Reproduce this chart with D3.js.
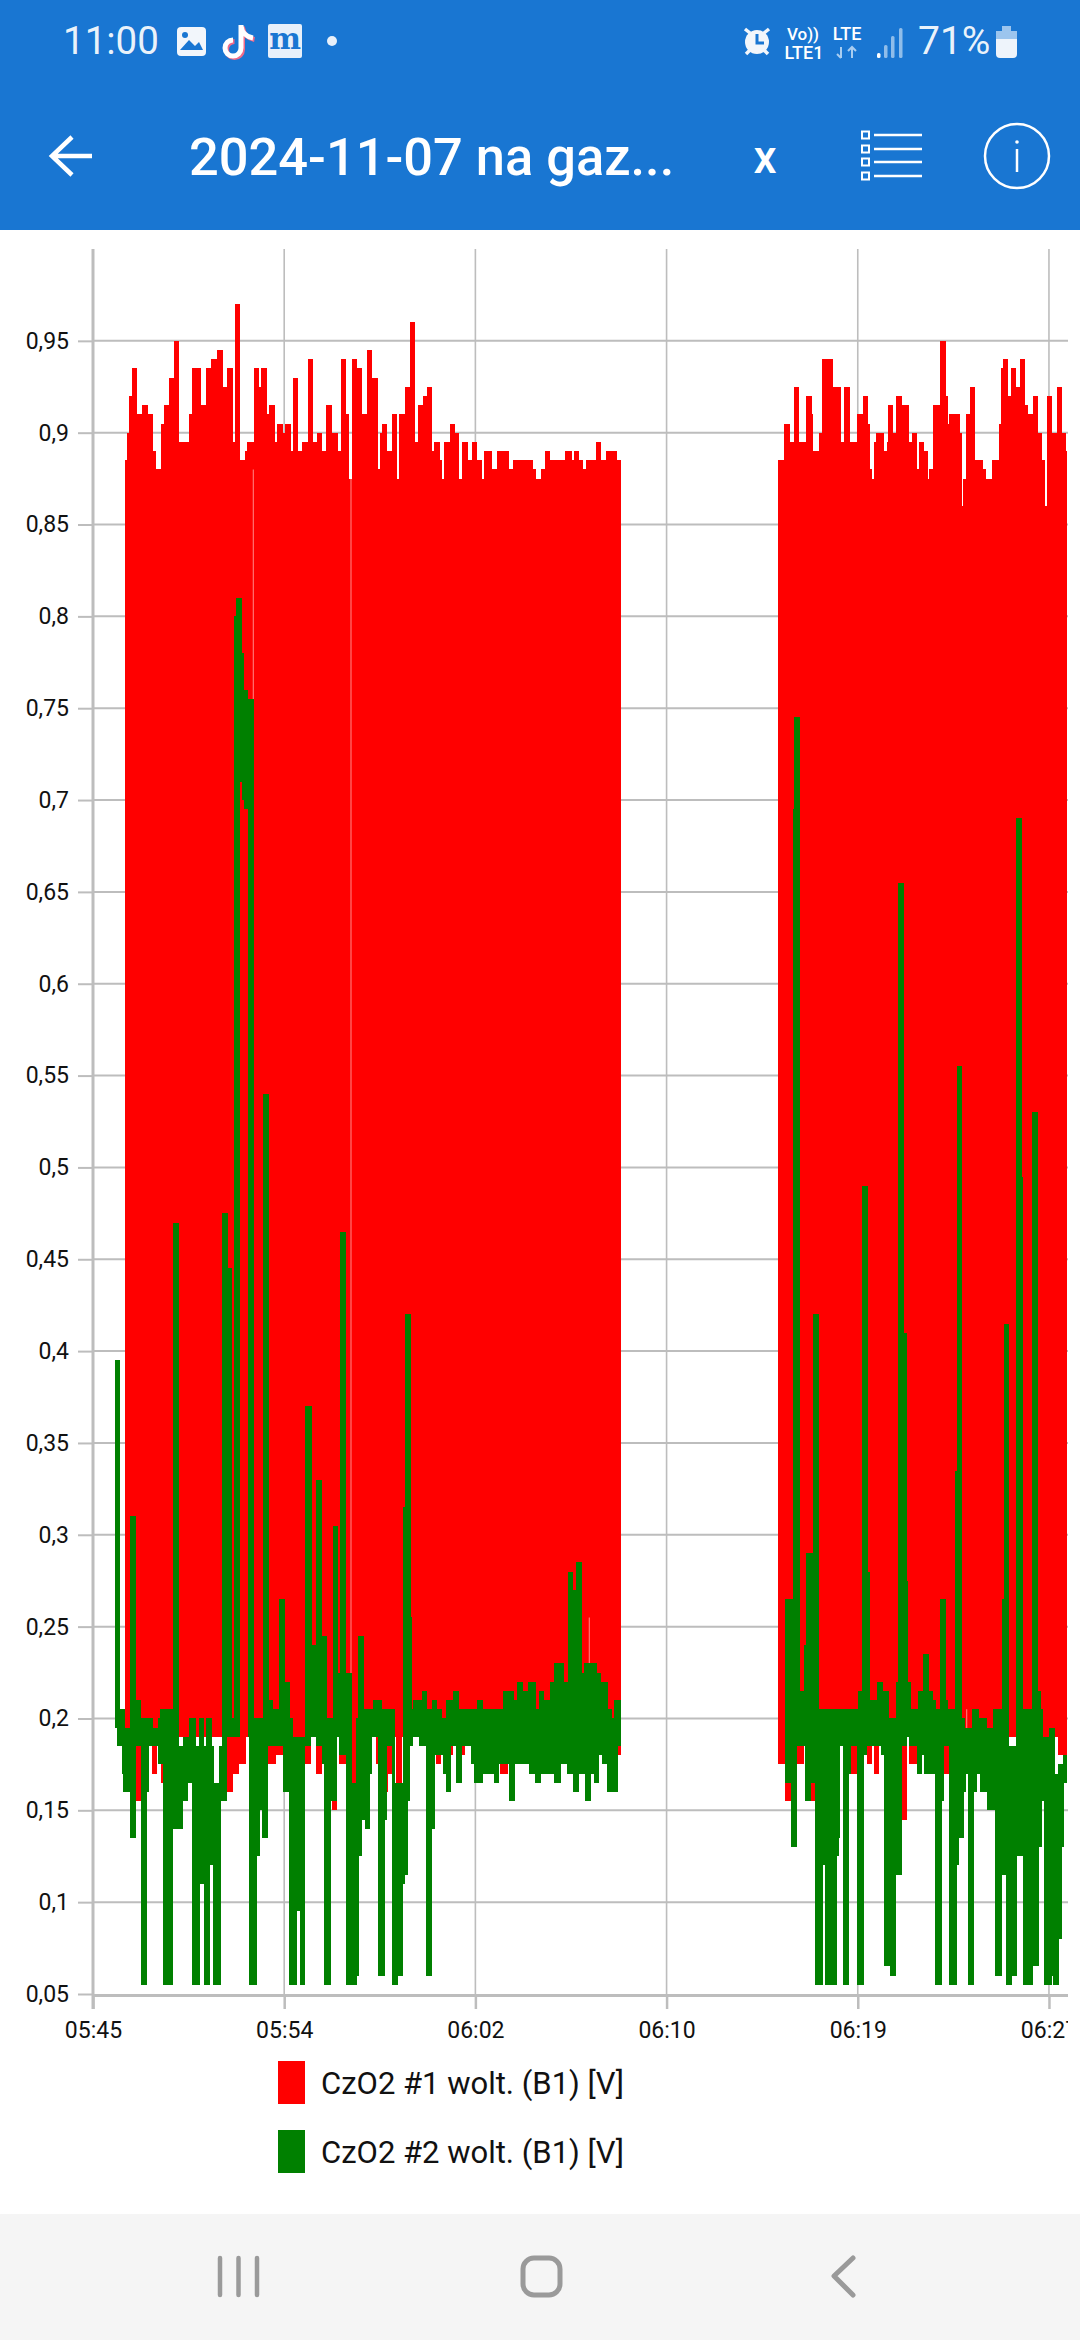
<!DOCTYPE html>
<html>
<head>
<meta charset="utf-8">
<script src="https://cdn.jsdelivr.net/npm/d3@7"></script>
<style>
  html, body { margin: 0; padding: 0; background: #fff; }
  svg { display: block; font-family: Roboto, sans-serif; }
</style>
</head>
<body>
<div id="chart"></div>
<script>
// values are read off the screenshot, each list is "from this sample on, the value is ..."
// null closes a run of logging
const sampleSeconds = 0.8787;
const yTicks = [0.05, 0.1, 0.15, 0.2, 0.25, 0.3, 0.35, 0.4, 0.45, 0.5, 0.55, 0.6, 0.65, 0.7, 0.75, 0.8, 0.85, 0.9, 0.95];
const timeTicksMin = [0, 8.4, 16.8, 25.2, 33.6, 42];
const seriesNames = ["CzO2 #1 wolt. (B1) [V]", "CzO2 #2 wolt. (B1) [V]"];
const seriesColors = ["#ff0000", "#008000"];

const redTopAt = [96,101,108,117,133,147,164,181,188,204,214,228,242,258,289,297,325,339,354,371,389,403,419,425,441,456,461,483,499,505,521,529,545,552,569,577,593,600,616,627,644,661,671,687,699,716,736,743,760,769,776,793,807,821,838,854,860,867,881,896,911,919,935,951,966,976,991,1001,1018,1023,1040,1046,1053,1071,1086,1098,1106,1124,1136,1153,1167,1172,1196,1213,1248,1259,1321,1328,1343,1355,1372,1415,1437,1442,1459,1471,1479,1509,1525,1539,1571,1583,
  2056,2073,2091,2103,2119,2138,2156,2161,2177,2188,2219,2243,2254,2270,2293,2309,2326,2331,2336,2343,2348,2373,2381,2385,2401,2409,2426,2448,2456,2471,2478,2494,2506,2509,2521,2541,2558,2564,2568,2601,2606,2611,2619,2631,2647,2671,2678,2698,2717,2723,2731,2746,2753,2768,2780,2796,2804,2819,2835,2847,2856,2861,2878,2891,2908,2918,2923];
const redTop = [.885,.9,.92,.935,.91,.915,.91,.89,.88,.905,.915,.93,.95,.895,.91,.935,.915,.935,.94,.945,.925,.935,.895,.97,.885,.89,.895,.935,.925,.935,.91,.915,.895,.905,.9,.905,.89,.93,.89,.895,.94,.895,.9,.89,.915,.9,.89,.94,.91,.875,.94,.935,.91,.945,.93,.88,.9,.905,.89,.91,.875,.91,.925,.96,.895,.915,.92,.925,.89,.895,.885,.875,.895,.905,.9,.875,.895,.885,.895,.885,.875,.89,.88,.89,.88,.885,.88,.875,.88,.89,.885,.89,.885,.89,.885,.88,.885,.895,.885,.89,.885,null,
  .885,.905,.895,.925,.895,.92,.91,.89,.9,.94,.925,.895,.925,.895,.91,.92,.905,.88,.875,.895,.9,.89,.895,.915,.9,.92,.915,.895,.9,.88,.895,.89,.875,.88,.915,.95,.92,.905,.91,.9,.86,.875,.91,.925,.885,.88,.875,.885,.905,.935,.94,.92,.935,.925,.94,.915,.91,.92,.9,.885,.86,.92,.9,.925,.9,.89,null];

const redLowAt = [96,129,143,176,191,203,209,401,421,439,459,524,549,569,637,653,669,687,716,731,737,759,776,789,849,854,879,886,896,909,928,1029,1043,1073,1079,1106,1116,1221,1246,1376,1383,1404,1411,1576,1583,
  2056,2075,2093,2113,2133,2153,2167,2273,2291,2321,2337,2344,2359,2427,2441,2449,2471,2553,2567,2646,2659,2896,2923];
const redLow = [.19,.155,.19,.17,.19,.165,.19,.16,.17,.175,.19,.175,.18,.19,.175,.19,.17,.19,.15,.19,.175,.19,.165,.19,.175,.19,.16,.17,.19,.165,.19,.175,.19,.18,.19,.18,.19,.17,.19,.17,.19,.175,.19,.18,null,
  .175,.155,.19,.175,.19,.155,.19,.17,.19,.175,.19,.17,.19,.145,.19,.175,.19,.17,.19,.17,.19,.18,null];

const greenTopAt = [64,81,96,111,129,143,179,194,201,241,259,269,289,309,319,334,339,356,363,379,387,404,418,423,429,441,466,483,493,509,527,539,557,575,591,599,637,656,669,687,701,719,736,741,759,776,789,794,812,839,866,906,929,935,953,957,961,986,1003,1016,1033,1046,1059,1079,1099,1151,1169,1231,1263,1271,1289,1306,1328,1339,1353,1371,1383,1413,1426,1441,1448,1466,1473,1511,1523,1546,1556,1563,1583,
  2075,2099,2103,2121,2133,2139,2159,2177,2296,2306,2326,2331,2351,2369,2389,2409,2416,2433,2441,2446,2453,2476,2489,2507,2521,2528,2541,2558,2566,2586,2591,2608,2616,2636,2657,2681,2701,2726,2733,2749,2769,2786,2791,2818,2836,2844,2851,2869,2886,2896,2911,2923];
const greenTop = [.395,.205,.195,.31,.21,.2,.195,.2,.205,.47,.185,.19,.2,.185,.2,.185,.2,.185,.165,.185,.475,.445,.2,.8,.81,.19,.755,.2,.2,.54,.21,.205,.265,.22,.2,.19,.37,.24,.33,.245,.2,.305,.225,.465,.225,.165,.2,.245,.205,.21,.205,.165,.315,.42,.255,.205,.21,.215,.205,.21,.205,.2,.21,.215,.205,.21,.205,.215,.21,.22,.215,.22,.205,.215,.21,.22,.23,.22,.28,.27,.285,.225,.23,.225,.22,.205,.2,.21,null,
  .265,.695,.745,.215,.24,.29,.42,.205,.215,.49,.28,.21,.22,.215,.2,.22,.655,.41,.275,.22,.205,.215,.235,.215,.21,.205,.265,.21,.205,.335,.555,.2,.195,.205,.2,.195,.205,.265,.415,.185,.69,.495,.205,.53,.215,.205,.19,.195,.17,.175,.18,null];

const greenLowAt = [66,71,86,91,111,129,143,161,169,194,209,241,269,286,298,321,334,351,359,384,401,468,493,501,508,524,569,589,613,621,637,653,669,687,693,713,731,739,759,791,799,806,816,831,836,854,876,881,897,916,931,936,944,951,961,979,998,1016,1026,1051,1059,1073,1089,1106,1134,1143,1171,1203,1219,1249,1267,1309,1325,1343,1383,1405,1423,1441,1458,1476,1493,1503,1519,1527,1541,1574,1583,
  2075,2093,2113,2135,2153,2167,2191,2197,2231,2237,2241,2251,2269,2275,2291,2314,2321,2363,2374,2391,2409,2427,2443,2449,2471,2488,2493,2526,2546,2553,2569,2591,2599,2613,2619,2625,2643,2651,2661,2681,2706,2726,2738,2756,2771,2789,2819,2839,2846,2853,2876,2881,2899,2906,2913,2923];
const greenLow = [.195,.185,.17,.16,.135,.185,.055,.16,.185,.175,.055,.14,.155,.165,.055,.11,.055,.12,.055,.155,.19,.055,.125,.15,.135,.185,.16,.055,.095,.055,.185,.19,.185,.175,.055,.155,.19,.18,.055,.06,.125,.145,.14,.17,.19,.06,.145,.185,.055,.06,.11,.115,.155,.185,.19,.185,.06,.14,.18,.17,.16,.185,.165,.185,.175,.165,.17,.165,.175,.155,.175,.17,.165,.17,.165,.175,.17,.16,.17,.155,.17,.165,.18,.175,.16,.185,null,
  .165,.13,.185,.155,.165,.055,.12,.055,.125,.135,.185,.055,.17,.185,.055,.18,.185,.18,.065,.06,.115,.185,.19,.185,.17,.18,.17,.055,.155,.185,.055,.12,.135,.16,.17,.055,.16,.17,.16,.15,.06,.115,.055,.06,.125,.055,.065,.13,.155,.055,.06,.055,.08,.13,.165,null];

// piece of green that floats inside the red around 05:53
const greenFloatAt = [441,446,453,466];
const greenFloatTop = [.81,.78,.76,null];
const greenFloatLow = [.71,.7,.695,null];

// thin light seams where the red trace has a hole
const seamAt = [481,774,1489,2621];
const seamTop = [.88,.88,.255,.205];
const seamLow = [.19,.19,.23,.19];

const startTime = new Date(2024, 10, 7, 5, 45, 36);
const toTime = s => new Date(+startTime + s * sampleSeconds * 1000);
const minTime = m => new Date(+startTime + m * 60000);

const W = 1080, H = 2340;
const plot = {left: 93, right: 1068, top: 249, bottom: 1994};

const x = d3.scaleTime()
    .domain([startTime, toTime((plot.right - plot.left) * 3)])
    .range([plot.left, plot.right]);
const y = d3.scaleLinear().domain([0.05, 1]).range([plot.bottom, plot.top]);

const svg = d3.select("#chart").append("svg").attr("width", W).attr("height", H);
svg.append("rect").attr("width", W).attr("height", H).attr("fill", "#fff");

svg.append("clipPath").attr("id", "plotclip")
    .append("rect").attr("x", 0).attr("y", 230).attr("width", plot.right).attr("height", 1950);
const chart = svg.append("g").attr("clip-path", "url(#plotclip)");

// grid
const gridColor = "#bdbdbd";
chart.append("g").selectAll("line").data(yTicks.slice(1)).join("line")
    .attr("x1", plot.left).attr("x2", plot.right)
    .attr("y1", d => y(d)).attr("y2", d => y(d))
    .attr("stroke", gridColor).attr("stroke-width", 2);
chart.append("g").selectAll("line").data(timeTicksMin.slice(1)).join("line")
    .attr("x1", d => x(minTime(d))).attr("x2", d => x(minTime(d)))
    .attr("y1", plot.top).attr("y2", plot.bottom)
    .attr("stroke", gridColor).attr("stroke-width", 1.6);

// merge the top and low step lists into one band
function band(topAt, top, lowAt, low) {
    const times = Array.from(new Set([...topAt, ...lowAt])).sort(d3.ascending);
    const pts = [];
    let prev = null;
    for (const t of times) {
        const hi = top[d3.bisectRight(topAt, t) - 1];
        const lo = low[d3.bisectRight(lowAt, t) - 1];
        if (hi === undefined || lo === undefined) continue;
        if (hi === null || lo === null) {
            if (prev) pts.push({t: t, hi: prev.hi, lo: prev.lo});
            pts.push({t: t, gap: true});
            prev = null;
        } else {
            prev = {t: t, hi: hi, lo: lo};
            pts.push(prev);
        }
    }
    return pts;
}

const area = d3.area()
    .defined(d => !d.gap)
    .curve(d3.curveStepAfter)
    .x(d => x(toTime(d.t)))
    .y0(d => y(d.lo))
    .y1(d => y(d.hi));

chart.append("path").datum(band(redTopAt, redTop, redLowAt, redLow))
    .attr("d", area).attr("fill", seriesColors[0]).attr("shape-rendering", "crispEdges");

chart.append("g").selectAll("line").data(seamAt).join("line")
    .attr("x1", d => x(toTime(d))).attr("x2", d => x(toTime(d)))
    .attr("y1", (d, i) => y(seamTop[i])).attr("y2", (d, i) => y(seamLow[i]))
    .attr("stroke", "#fff").attr("stroke-opacity", 0.45).attr("stroke-width", 1.2);

chart.append("path").datum(band(greenTopAt, greenTop, greenLowAt, greenLow))
    .attr("d", area).attr("fill", seriesColors[1]).attr("shape-rendering", "crispEdges");
chart.append("path").datum(band(greenFloatAt, greenFloatTop, greenFloatAt, greenFloatLow))
    .attr("d", area).attr("fill", seriesColors[1]).attr("shape-rendering", "crispEdges");

// axes
const xAxis = d3.axisBottom(x)
    .tickValues(timeTicksMin.map(minTime))
    .tickFormat(d3.timeFormat("%H:%M"))
    .tickSize(14).tickSizeOuter(0);
const xg = chart.append("g").attr("transform", `translate(0,${plot.bottom + 1})`).call(xAxis);
xg.select(".domain").attr("stroke", gridColor).attr("stroke-width", 3);
xg.selectAll(".tick line").attr("stroke", gridColor).attr("stroke-width", 2.5);
xg.selectAll("text").attr("font-size", 23).attr("fill", "#111").attr("font-family", "Roboto").attr("y", 27);

const yAxis = d3.axisLeft(y)
    .tickValues(yTicks)
    .tickFormat(d => String(d).replace(".", ","))
    .tickSize(15).tickSizeOuter(0);
const yg = svg.append("g").attr("transform", `translate(${plot.left},0)`).call(yAxis);
yg.select(".domain").remove();
yg.selectAll(".tick line").attr("stroke", gridColor).attr("stroke-width", 2);
yg.selectAll("text").attr("font-size", 23).attr("fill", "#111").attr("font-family", "Roboto").attr("x", -24);
svg.append("line").attr("x1", plot.left).attr("x2", plot.left)
    .attr("y1", plot.top).attr("y2", plot.bottom + 15)
    .attr("stroke", gridColor).attr("stroke-width", 3);

// legend
const legend = svg.append("g").selectAll("g").data(seriesNames).join("g")
    .attr("transform", (d, i) => `translate(278,${2061 + i * 69})`);
legend.append("rect").attr("width", 27).attr("height", 43).attr("fill", (d, i) => seriesColors[i]);
legend.append("text").attr("x", 43).attr("y", 22).attr("dy", "0.35em")
    .attr("font-size", 31).attr("fill", "#111").text(d => d);

// app bar
const blue = "#1976d2";
const bar = svg.append("g");
bar.append("rect").attr("width", W).attr("height", 230).attr("fill", blue);
bar.append("text").attr("x", 63).attr("y", 54).attr("font-size", 38.5).attr("fill", "#fff").attr("fill-opacity", 0.92).text("11:00");

// notification icons
bar.append("rect").attr("x", 177).attr("y", 27).attr("width", 29).attr("height", 29).attr("rx", 4).attr("fill", "#f2f6fb");
bar.append("path").attr("d", "M180 50 L189 40 L195 46 L199 42 L203 50 Z").attr("fill", blue);
bar.append("circle").attr("cx", 185).attr("cy", 35).attr("r", 3).attr("fill", blue);
bar.append("path").attr("d", "M241 25 V48 A8 8 0 1 1 233 40 M241 26 C242 33 247 37 253 38")
    .attr("fill", "none").attr("stroke", "#f06a8a").attr("stroke-width", 5).attr("transform", "translate(1.5,1.5)");
bar.append("path").attr("d", "M241 25 V48 A8 8 0 1 1 233 40 M241 26 C242 33 247 37 253 38")
    .attr("fill", "none").attr("stroke", "#fff").attr("stroke-width", 5);
bar.append("rect").attr("x", 268).attr("y", 24).attr("width", 34).attr("height", 34).attr("rx", 2).attr("fill", "#e8f0fa");
bar.append("text").attr("x", 285).attr("y", 49).attr("text-anchor", "middle").attr("font-size", 30).attr("font-weight", 700).attr("font-family", "DejaVu Serif").attr("textLength", 26).attr("fill", blue).text("m");
bar.append("circle").attr("cx", 332).attr("cy", 41).attr("r", 5).attr("fill", "#e8f0fa");

// status icons
bar.append("circle").attr("cx", 757).attr("cy", 42).attr("r", 12).attr("fill", "#f2f6fb");
bar.append("path").attr("d", "M757 34 V43 H764").attr("fill", "none").attr("stroke", blue).attr("stroke-width", 3);
bar.append("path").attr("d", "M745 29 L750 33 M769 29 L764 33 M746 54 L750 50 M768 54 L764 50").attr("stroke", "#f2f6fb").attr("stroke-width", 3.5);
bar.append("text").attr("x", 803).attr("y", 40).attr("text-anchor", "middle").attr("font-size", 17).attr("font-weight", 500).attr("fill", "#fff").text("Vo))");
bar.append("text").attr("x", 804).attr("y", 59).attr("text-anchor", "middle").attr("font-size", 18).attr("font-weight", 500).attr("fill", "#fff").text("LTE1");
bar.append("text").attr("x", 847).attr("y", 40).attr("text-anchor", "middle").attr("font-size", 18).attr("font-weight", 500).attr("fill", "#fff").text("LTE");
bar.append("path").attr("d", "M841 47 V58 M837 54 L841 58 M852 47 V58 M848 51 L852 47 L856 51").attr("fill", "none").attr("stroke", "#a9cdf0").attr("stroke-width", 2);
[[877, 53, "#fff"], [884, 45, "#8fbdea"], [891, 36, "#8fbdea"], [899, 28, "#8fbdea"]].forEach(s => {
    bar.append("rect").attr("x", s[0]).attr("y", s[1]).attr("width", 3.5).attr("height", 58 - s[1]).attr("rx", 1.5).attr("fill", s[2]);
});
bar.append("text").attr("x", 918).attr("y", 54).attr("font-size", 39).attr("fill", "#fff").attr("fill-opacity", 0.92).text("71%");
bar.append("rect").attr("x", 996).attr("y", 31).attr("width", 21).attr("height", 27).attr("rx", 4).attr("fill", "#eef4fb");
bar.append("rect").attr("x", 996).attr("y", 31).attr("width", 21).attr("height", 8).attr("fill", "#9cc5ee");
bar.append("rect").attr("x", 1002).attr("y", 26).attr("width", 9).attr("height", 5).attr("fill", "#9cc5ee");

// toolbar
bar.append("path").attr("d", "M92 156 H53 M72 137 L52 156 L72 175").attr("fill", "none").attr("stroke", "#fff").attr("stroke-width", 4.5);
bar.append("text").attr("x", 189).attr("y", 175).attr("font-size", 52.4).attr("font-weight", 500).attr("fill", "#fff").text("2024-11-07 na gaz...");
bar.append("text").attr("x", 765).attr("y", 173).attr("text-anchor", "middle").attr("font-size", 46).attr("font-weight", 500).attr("fill", "#fff").text("x");
[135, 149, 162, 176].forEach(iy => {
    bar.append("rect").attr("x", 862).attr("y", iy - 3.5).attr("width", 7).attr("height", 7).attr("fill", "none").attr("stroke", "#fff").attr("stroke-width", 2);
    bar.append("line").attr("x1", 874).attr("x2", 922).attr("y1", iy).attr("y2", iy).attr("stroke", "#fff").attr("stroke-width", 2.5);
});
bar.append("circle").attr("cx", 1017).attr("cy", 156).attr("r", 32).attr("fill", "none").attr("stroke", "#fff").attr("stroke-width", 2.5);
bar.append("line").attr("x1", 1017).attr("x2", 1017).attr("y1", 149).attr("y2", 172).attr("stroke", "#fff").attr("stroke-width", 2.5);
bar.append("circle").attr("cx", 1017).attr("cy", 142).attr("r", 1.8).attr("fill", "#fff");

// phone navigation bar
const nav = svg.append("g");
nav.append("rect").attr("y", 2214).attr("width", W).attr("height", H - 2214).attr("fill", "#f5f5f5");
[220, 238.5, 257].forEach(nx => {
    nav.append("line").attr("x1", nx).attr("x2", nx).attr("y1", 2258).attr("y2", 2295)
        .attr("stroke", "#9a9a9a").attr("stroke-width", 4.5).attr("stroke-linecap", "round");
});
nav.append("rect").attr("x", 523).attr("y", 2258).attr("width", 37).attr("height", 37).attr("rx", 11)
    .attr("fill", "none").attr("stroke", "#9a9a9a").attr("stroke-width", 5);
nav.append("path").attr("d", "M853 2258 L834 2276 L853 2295").attr("fill", "none")
    .attr("stroke", "#9a9a9a").attr("stroke-width", 5).attr("stroke-linecap", "round").attr("stroke-linejoin", "round");
</script>
</body>
</html>
